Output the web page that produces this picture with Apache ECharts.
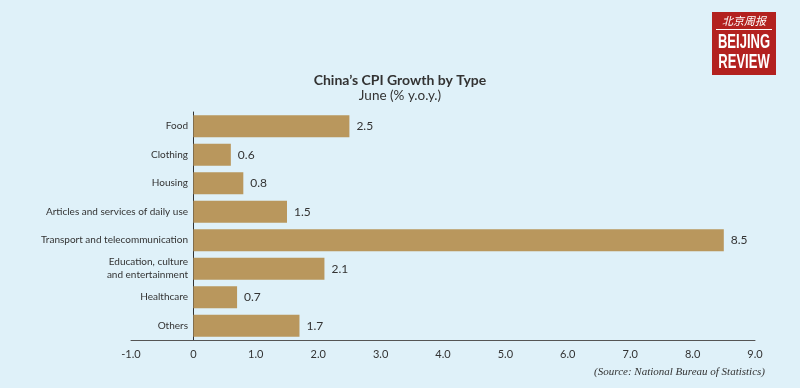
<!DOCTYPE html>
<html><head><meta charset="utf-8">
<script src="https://cdn.jsdelivr.net/npm/echarts@6/dist/echarts.min.js"></script>
<style>html,body{margin:0;padding:0;background:#dff1f9;}#c{width:800px;height:388px;}</style>
</head><body><div id="c"></div>
<script>
const categories = ["Food","Clothing","Housing","Articles and services of daily use","Transport and telecommunication","Education, culture\nand entertainment","Healthcare","Others"];
const values = [2.5,0.6,0.8,1.5,8.5,2.1,0.7,1.7];
const xTicks = [-1,0,1,2,3,4,5,6,7,8,9];

const chart = echarts.init(document.getElementById('c'));
chart.setOption({
  backgroundColor:'#dff1f9',
  animation:false,
  title:{text:"China’s CPI Growth by Type",subtext:"June (% y.o.y.)",left:'center',top:68,itemGap:2,
    textStyle:{fontFamily:'Lato',fontSize:14,fontWeight:'bold',color:'#333'},
    subtextStyle:{fontFamily:'Lato',fontSize:13.5,color:'#333'}},
  grid:{left:131,right:45,top:112,bottom:48,containLabel:false,outerBoundsMode:'none'},
  xAxis:{type:'value',min:-1,max:9,interval:1,
    axisLine:{show:true,lineStyle:{color:'#555',width:1}},axisTick:{show:false},splitLine:{show:false},
    axisLabel:{fontFamily:'Lato',fontSize:11,color:'#333',margin:9,
      formatter:v=>v===0?'0':v.toFixed(1)}},
  yAxis:{type:'category',data:categories,inverse:true,
    axisLine:{show:true,onZero:true,lineStyle:{color:'#333',width:1}},axisTick:{show:false},
    axisLabel:{fontFamily:'Lato',fontSize:10,color:'#333',lineHeight:13,margin:-57}},
  series:[{type:'bar',data:values,barWidth:22,
    itemStyle:{color:'#b9975d'},
    label:{show:true,position:'right',distance:7,fontFamily:'Lato',fontSize:12,color:'#333',
      formatter:p=>p.value.toFixed(1)}}],
  graphic:[
    {type:'rect',shape:{x:712,y:12,width:64,height:63},style:{fill:'#b3211f'}},
    {type:'text',x:744,y:21,style:{x:0,y:0,text:'北京周报',fill:'#fff',font:'italic 11px "Noto Sans CJK SC"',textAlign:'center',textVerticalAlign:'middle'}},
    {type:'rect',shape:{x:716,y:29,width:56,height:1},style:{fill:'#fff'}},
    {type:'text',x:744,y:42,scaleX:0.62,style:{x:0,y:0,text:'BEIJING',fill:'#fff',font:'bold 21px "Liberation Sans"',textAlign:'center',textVerticalAlign:'middle'}},
    {type:'text',x:744,y:62,scaleX:0.62,style:{x:0,y:0,text:'REVIEW',fill:'#fff',font:'bold 21px "Liberation Sans"',textAlign:'center',textVerticalAlign:'middle'}},
    {type:'text',style:{x:765,y:372,text:'(Source: National Bureau of Statistics)',fill:'#333',font:'italic 11px "Liberation Serif"',textAlign:'right',textVerticalAlign:'middle'}}
  ]
});
</script></body></html>
